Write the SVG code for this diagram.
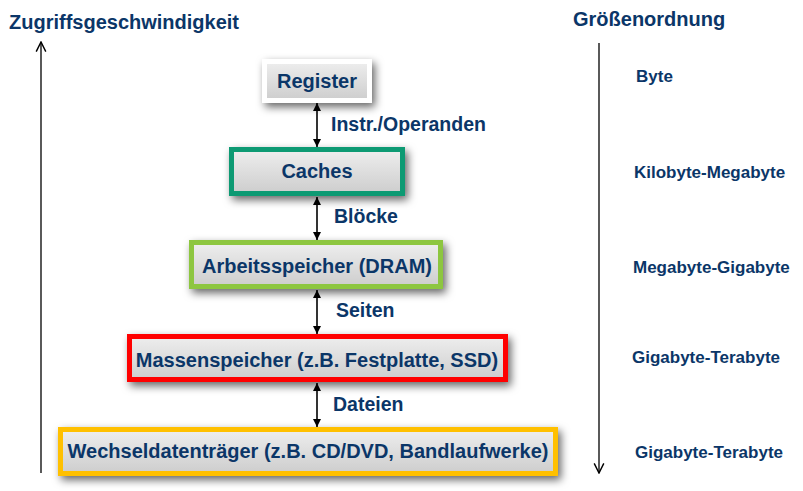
<svg xmlns="http://www.w3.org/2000/svg" width="803" height="491" viewBox="0 0 803 491">
<defs>
<linearGradient id="gfill" x1="0" y1="0" x2="0" y2="1">
<stop offset="0" stop-color="#eeeeee"/>
<stop offset="1" stop-color="#cdcdcd"/>
</linearGradient>
<filter id="shadow" x="-20%" y="-50%" width="140%" height="200%">
<feDropShadow dx="3" dy="4" stdDeviation="4" flood-color="#000" flood-opacity="0.6"/>
</filter>
<marker id="tri" viewBox="0 0 10 10" refX="10" refY="5" markerWidth="8" markerHeight="8" markerUnits="userSpaceOnUse" orient="auto-start-reverse">
<path d="M0,0 L10,5 L0,10 z" fill="#000"/>
</marker>
<marker id="open" viewBox="0 0 10 10" refX="9" refY="5" markerWidth="12" markerHeight="12" markerUnits="userSpaceOnUse" orient="auto">
<path d="M1,1 L9,5 L1,9" fill="none" stroke="#000" stroke-width="1.2"/>
</marker>
</defs>
<style>
text{font-family:"Liberation Sans",Arial,sans-serif;font-weight:bold;fill:#0b3668}
.title{font-size:20px}
.node{font-size:20px;text-anchor:middle}
.lbl{font-size:19.5px}
.size{font-size:17px}
.box{fill:url(#gfill);stroke-width:5;filter:url(#shadow)}
.conn{stroke:#000;stroke-width:1.6;fill:none;marker-start:url(#tri);marker-end:url(#tri)}
.axis{stroke:#000;stroke-width:1.3;fill:none;marker-end:url(#open)}
</style>
<rect width="803" height="491" fill="#fff"/>
<text class="title" x="9" y="29">Zugriffsgeschwindigkeit</text>
<text class="title" x="573" y="26">Größenordnung</text>
<g id="axes">
<line class="axis" x1="41" y1="473" x2="41" y2="42"/>
<line class="axis" x1="599" y1="43" x2="599" y2="473"/>
</g>
<g id="connectors">
<line class="conn" x1="317" y1="103" x2="317" y2="147"/>
<line class="conn" x1="317" y1="197" x2="317" y2="240"/>
<line class="conn" x1="317" y1="290" x2="317" y2="334"/>
<line class="conn" x1="317" y1="383" x2="317" y2="427"/>
<text class="lbl" x="331" y="131">Instr./Operanden</text>
<text class="lbl" x="334" y="223">Blöcke</text>
<text class="lbl" x="336" y="317">Seiten</text>
<text class="lbl" x="333" y="411">Dateien</text>
</g>
<g id="register">
<rect class="box" x="264.5" y="61.5" width="105" height="39" stroke="#fff" stroke-width="4"/>
<text class="node" x="317" y="88">Register</text>
</g>
<g id="caches">
<rect class="box" x="231.5" y="149.5" width="171" height="44" stroke="#0e9a73"/>
<text class="node" x="317" y="178">Caches</text>
</g>
<g id="dram">
<rect class="box" x="191.5" y="242.5" width="249" height="44" stroke="#8dc641"/>
<text class="node" x="317" y="273">Arbeitsspeicher (DRAM)</text>
</g>
<g id="massenspeicher">
<rect class="box" x="129.5" y="336.5" width="376" height="43" stroke="#ff0000"/>
<text class="node" x="317" y="367">Massenspeicher (z.B. Festplatte, SSD)</text>
</g>
<g id="wechseldatentraeger">
<rect class="box" x="60.5" y="429.5" width="495" height="44" stroke="#ffc000"/>
<text class="node" x="308" y="458">Wechseldatenträger (z.B. CD/DVD, Bandlaufwerke)</text>
</g>
<g id="sizes">
<text class="size" x="636" y="82">Byte</text>
<text class="size" x="634" y="178">Kilobyte-Megabyte</text>
<text class="size" x="633" y="273">Megabyte-Gigabyte</text>
<text class="size" x="632" y="363">Gigabyte-Terabyte</text>
<text class="size" x="635" y="458">Gigabyte-Terabyte</text>
</g>
</svg>
